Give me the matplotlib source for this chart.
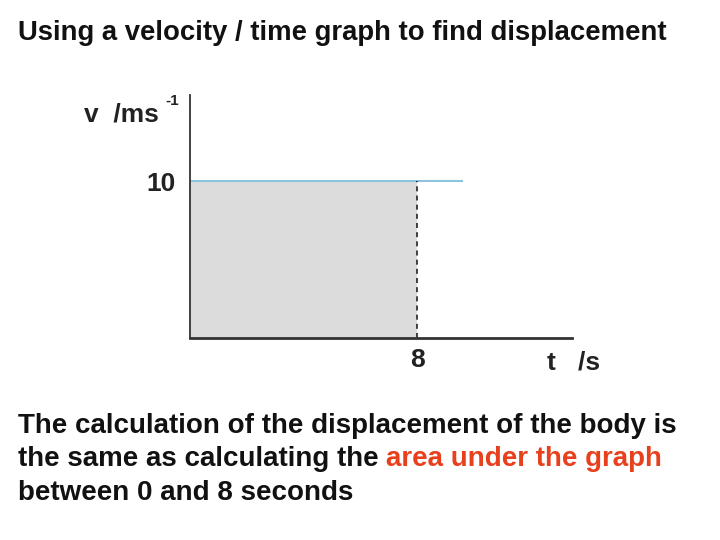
import matplotlib
matplotlib.use("Agg")
import matplotlib.pyplot as plt

t_vals = [0, 9.6]
v_vals = [10, 10]
area_t = [0, 8]
area_v = [10, 10]
x_ticks = [8]
y_ticks = [10]

plt.rcParams['font.family'] = ['Liberation Sans', 'DejaVu Sans']

fig = plt.figure(figsize=(7.2, 5.4), dpi=100)
ax = fig.add_axes([190/720, 1-338/540, (572-190)/720, (338-95)/540])
ax.set_xlim(0, 13.46)
ax.set_ylim(0, 15.5)

ax.fill_between(area_t, 0, area_v, color='#dcdcdc', lw=0)
ax.plot(t_vals, v_vals, color='#8ec3dd', lw=1.5)
ax.plot([area_t[1], area_t[1]], [0, area_v[1]], color='#222222', lw=1.2, ls=(0, (3, 2.5)))

for s in ['top', 'right']:
    ax.spines[s].set_visible(False)
ax.spines['left'].set_color('#333333')
ax.spines['bottom'].set_color('#333333')
ax.spines['left'].set_linewidth(1.3)
ax.spines['bottom'].set_linewidth(2.0)
ax.set_xticks(x_ticks)
ax.set_yticks(y_ticks)
ax.set_xticklabels([str(x) for x in x_ticks], fontsize=19, fontweight='bold', color='#222222')
ax.set_yticklabels([str(y) for y in y_ticks], fontsize=19, fontweight='bold', color='#222222')
ax.tick_params(length=0)
ax.tick_params(axis='y', pad=10)
ax.tick_params(axis='x', pad=7)

fig.text(84/720, 1-114/540, 'v  /ms', fontsize=19, fontweight='bold', color='#222222', va='center', ha='left')
fig.text(165/720, 1-101/540, '-1', fontsize=11, fontweight='bold', color='#222222', va='center', ha='left')
fig.text(547/720, 1-363/540, 't   /s', fontsize=19, fontweight='bold', color='#222222', va='center', ha='left')

fig.text(18/720, 1-33/540, 'Using a velocity / time graph to find displacement', fontsize=19.8, fontweight='bold', color='#111111', va='center', ha='left')

y0 = 426
fig.text(18/720, 1-y0/540, 'The calculation of the displacement of the body is', fontsize=20, fontweight='bold', color='#111111', va='center', ha='left')
t1 = fig.text(18/720, 1-(y0+33)/540, 'the same as calculating the ', fontsize=20, fontweight='bold', color='#111111', va='center', ha='left')
fig.canvas.draw()
bb = t1.get_window_extent()
fig.text(bb.x1/720, 1-(y0+33)/540, 'area under the graph', fontsize=20, fontweight='bold', color='#e8401c', va='center', ha='left')
fig.text(18/720, 1-(y0+67)/540, 'between 0 and 8 seconds', fontsize=20, fontweight='bold', color='#111111', va='center', ha='left')

fig.savefig('out.png', dpi=100)
